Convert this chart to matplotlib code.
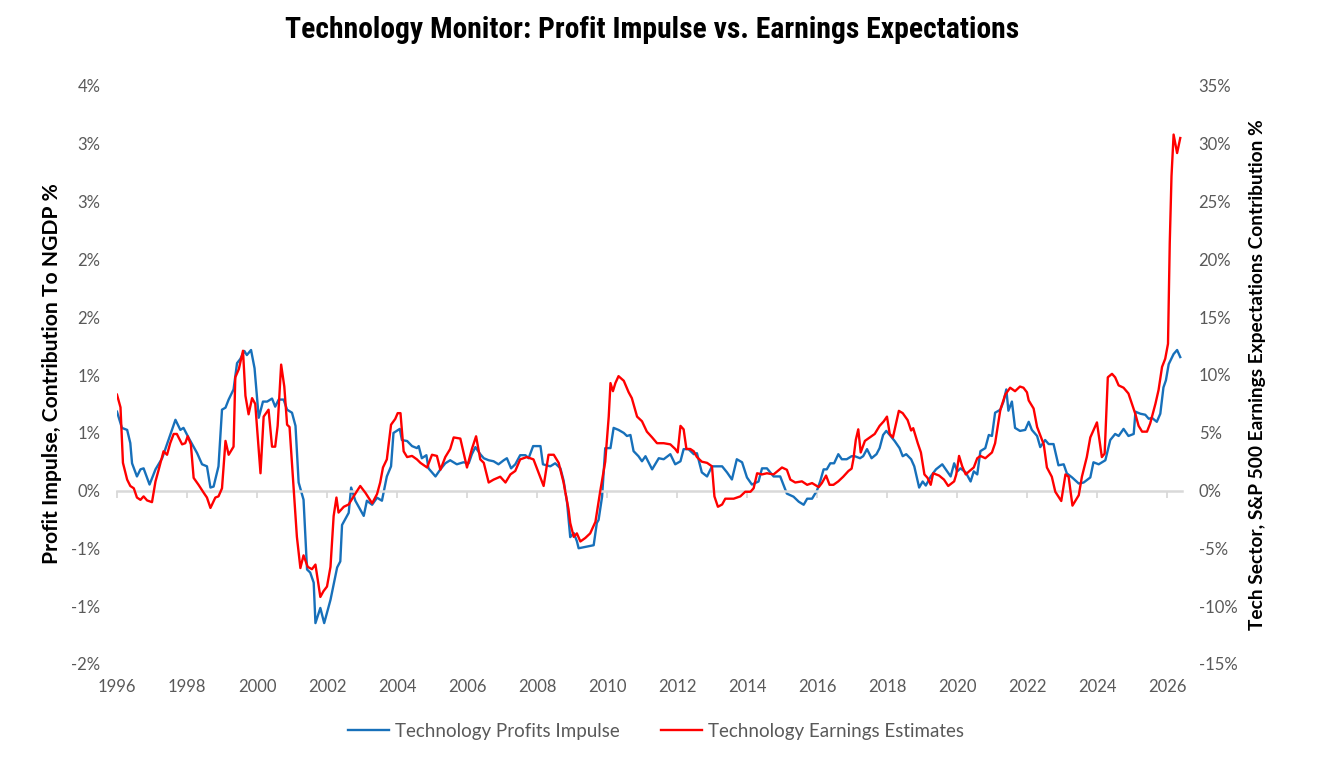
import numpy as np
import matplotlib
matplotlib.use("Agg")
import matplotlib.pyplot as plt
from matplotlib.ticker import FuncFormatter, FixedLocator

# Technology Profits Impulse, contribution to NGDP (%), left axis
blue_years = [1996.0, 1996.14, 1996.29, 1996.38, 1996.43, 1996.57, 1996.67, 1996.76, 1996.93, 1997.1,
              1997.29, 1997.43, 1997.67, 1997.81, 1997.9, 1998.05, 1998.29, 1998.43, 1998.57, 1998.67,
              1998.76, 1998.9, 1999.0, 1999.1, 1999.19, 1999.33, 1999.43, 1999.52, 1999.64, 1999.71,
              1999.83, 1999.93, 2000.05, 2000.17, 2000.29, 2000.43, 2000.52, 2000.62, 2000.76, 2000.86,
              2001.0, 2001.1, 2001.19, 2001.33, 2001.43, 2001.52, 2001.62, 2001.67, 2001.81, 2001.92,
              2002.1, 2002.29, 2002.38, 2002.43, 2002.62, 2002.69, 2002.81, 2003.05, 2003.14, 2003.29,
              2003.43, 2003.57, 2003.71, 2003.83, 2003.9, 2004.08, 2004.14, 2004.29, 2004.43, 2004.57,
              2004.62, 2004.71, 2004.84, 2004.9, 2005.1, 2005.24, 2005.38, 2005.52, 2005.71, 2005.9,
              2006.05, 2006.14, 2006.24, 2006.38, 2006.48, 2006.62, 2006.76, 2006.9, 2007.05, 2007.14,
              2007.26, 2007.38, 2007.52, 2007.67, 2007.76, 2007.89, 2008.1, 2008.17, 2008.38, 2008.52,
              2008.67, 2008.76, 2008.86, 2008.95, 2009.05, 2009.14, 2009.19, 2009.33, 2009.62, 2009.71,
              2009.76, 2009.86, 2009.95, 2010.1, 2010.19, 2010.33, 2010.48, 2010.57, 2010.67, 2010.76,
              2010.9, 2011.0, 2011.1, 2011.29, 2011.48, 2011.62, 2011.81, 2011.95, 2012.1, 2012.19,
              2012.33, 2012.48, 2012.57, 2012.71, 2012.86, 2013.0, 2013.14, 2013.29, 2013.43, 2013.57,
              2013.71, 2013.86, 2014.0, 2014.14, 2014.33, 2014.43, 2014.57, 2014.76, 2014.95, 2015.14,
              2015.33, 2015.48, 2015.62, 2015.72, 2015.86, 2016.0, 2016.09, 2016.19, 2016.28, 2016.38,
              2016.49, 2016.61, 2016.71, 2016.85, 2016.99, 2017.08, 2017.23, 2017.32, 2017.43, 2017.56,
              2017.7, 2017.79, 2017.89, 2017.98, 2018.08, 2018.22, 2018.36, 2018.45, 2018.55, 2018.69,
              2018.78, 2018.92, 2019.02, 2019.11, 2019.25, 2019.4, 2019.58, 2019.68, 2019.82, 2019.92,
              2020.01, 2020.1, 2020.25, 2020.39, 2020.48, 2020.58, 2020.67, 2020.81, 2020.91, 2021.0,
              2021.09, 2021.24, 2021.33, 2021.41, 2021.47, 2021.57, 2021.66, 2021.8, 2021.95, 2022.05,
              2022.14, 2022.29, 2022.38, 2022.52, 2022.62, 2022.76, 2022.9, 2023.05, 2023.14, 2023.29,
              2023.48, 2023.62, 2023.81, 2023.9, 2024.05, 2024.24, 2024.38, 2024.52, 2024.62, 2024.76,
              2024.9, 2025.05, 2025.1, 2025.24, 2025.38, 2025.48, 2025.57, 2025.71, 2025.81, 2025.9,
              2025.97, 2026.05, 2026.19, 2026.29, 2026.38]
blue_vals = [0.78, 0.62, 0.60, 0.47, 0.27, 0.14, 0.21, 0.22, 0.06, 0.21,
             0.32, 0.46, 0.70, 0.60, 0.62, 0.52, 0.37, 0.26, 0.24, 0.03,
             0.04, 0.24, 0.80, 0.82, 0.90, 1.00, 1.26, 1.30, 1.38, 1.34,
             1.39, 1.21, 0.72, 0.88, 0.88, 0.91, 0.83, 0.90, 0.90, 0.80,
             0.77, 0.64, 0.08, -0.09, -0.78, -0.81, -0.91, -1.31, -1.16, -1.31,
             -1.08, -0.76, -0.70, -0.34, -0.22, 0.03, -0.10, -0.25, -0.10, -0.14,
             -0.07, -0.10, 0.14, 0.24, 0.57, 0.61, 0.50, 0.49, 0.44, 0.42,
             0.44, 0.32, 0.35, 0.22, 0.14, 0.21, 0.27, 0.30, 0.26, 0.28,
             0.27, 0.36, 0.43, 0.36, 0.32, 0.30, 0.29, 0.26, 0.30, 0.32,
             0.22, 0.26, 0.35, 0.35, 0.32, 0.44, 0.44, 0.26, 0.24, 0.27,
             0.22, 0.10, -0.12, -0.46, -0.42, -0.50, -0.57, -0.56, -0.54, -0.32,
             -0.29, -0.06, 0.42, 0.42, 0.62, 0.60, 0.57, 0.54, 0.55, 0.39,
             0.34, 0.29, 0.34, 0.21, 0.32, 0.31, 0.36, 0.26, 0.29, 0.41,
             0.41, 0.36, 0.37, 0.18, 0.14, 0.24, 0.24, 0.24, 0.18, 0.11,
             0.31, 0.28, 0.13, 0.06, 0.09, 0.22, 0.22, 0.14, 0.14, -0.03,
             -0.06, -0.11, -0.14, -0.08, -0.08, 0.0, 0.09, 0.21, 0.21, 0.27,
             0.27, 0.36, 0.31, 0.31, 0.34, 0.34, 0.32, 0.34, 0.41, 0.32,
             0.36, 0.42, 0.55, 0.59, 0.55, 0.49, 0.42, 0.34, 0.36, 0.31,
             0.24, 0.03, 0.09, 0.05, 0.14, 0.21, 0.26, 0.21, 0.14, 0.27,
             0.19, 0.22, 0.18, 0.09, 0.19, 0.16, 0.39, 0.42, 0.55, 0.54,
             0.77, 0.80, 0.88, 1.00, 0.79, 0.88, 0.62, 0.59, 0.60, 0.68,
             0.60, 0.54, 0.43, 0.50, 0.46, 0.46, 0.25, 0.26, 0.17, 0.13,
             0.07, 0.08, 0.13, 0.28, 0.26, 0.30, 0.50, 0.56, 0.54, 0.61,
             0.54, 0.56, 0.78, 0.76, 0.75, 0.71, 0.72, 0.68, 0.76, 1.02,
             1.09, 1.25, 1.35, 1.39, 1.32]

# Technology Earnings Estimates, S&P 500 contribution (%), right axis
red_years = [1996.0, 1996.1, 1996.17, 1996.29, 1996.38, 1996.48, 1996.57, 1996.67, 1996.76, 1996.86,
             1997.0, 1997.1, 1997.19, 1997.33, 1997.43, 1997.52, 1997.62, 1997.71, 1997.86, 1997.95,
             1998.02, 1998.11, 1998.19, 1998.33, 1998.48, 1998.57, 1998.67, 1998.81, 1998.9, 1999.0,
             1999.1, 1999.19, 1999.33, 1999.38, 1999.48, 1999.6, 1999.67, 1999.76, 1999.86, 1999.95,
             2000.1, 2000.19, 2000.33, 2000.43, 2000.52, 2000.59, 2000.69, 2000.78, 2000.86, 2000.93,
             2001.05, 2001.14, 2001.24, 2001.33, 2001.45, 2001.57, 2001.67, 2001.81, 2001.9, 2002.0,
             2002.1, 2002.19, 2002.27, 2002.33, 2002.48, 2002.62, 2002.76, 2002.95, 2003.1, 2003.29,
             2003.43, 2003.52, 2003.6, 2003.71, 2003.83, 2003.95, 2004.02, 2004.1, 2004.19, 2004.29,
             2004.43, 2004.57, 2004.67, 2004.86, 2005.0, 2005.14, 2005.24, 2005.38, 2005.52, 2005.62,
             2005.81, 2006.0, 2006.14, 2006.26, 2006.38, 2006.48, 2006.62, 2006.76, 2006.95, 2007.1,
             2007.24, 2007.38, 2007.52, 2007.71, 2007.9, 2008.05, 2008.19, 2008.33, 2008.48, 2008.62,
             2008.76, 2008.9, 2008.95, 2009.05, 2009.14, 2009.24, 2009.38, 2009.52, 2009.67, 2009.81,
             2009.95, 2010.05, 2010.1, 2010.17, 2010.24, 2010.33, 2010.48, 2010.62, 2010.71, 2010.86,
             2011.0, 2011.14, 2011.29, 2011.43, 2011.62, 2011.81, 2011.95, 2012.02, 2012.1, 2012.19,
             2012.27, 2012.38, 2012.48, 2012.57, 2012.71, 2012.86, 2013.0, 2013.07, 2013.17, 2013.29,
             2013.38, 2013.62, 2013.81, 2013.95, 2014.1, 2014.19, 2014.29, 2014.43, 2014.57, 2014.76,
             2015.0, 2015.14, 2015.24, 2015.38, 2015.57, 2015.72, 2015.86, 2016.05, 2016.14, 2016.26,
             2016.36, 2016.47, 2016.61, 2016.75, 2016.9, 2016.99, 2017.04, 2017.11, 2017.18, 2017.25,
             2017.37, 2017.51, 2017.65, 2017.79, 2017.91, 2018.0, 2018.08, 2018.17, 2018.34, 2018.45,
             2018.59, 2018.69, 2018.75, 2018.88, 2018.97, 2019.07, 2019.16, 2019.25, 2019.32, 2019.49,
             2019.63, 2019.75, 2019.92, 2019.98, 2020.06, 2020.15, 2020.25, 2020.36, 2020.48, 2020.58,
             2020.67, 2020.81, 2021.0, 2021.09, 2021.24, 2021.38, 2021.52, 2021.66, 2021.8, 2021.9,
             2022.0, 2022.05, 2022.19, 2022.29, 2022.38, 2022.48, 2022.57, 2022.71, 2022.81, 2022.98,
             2023.1, 2023.19, 2023.3, 2023.48, 2023.57, 2023.71, 2023.81, 2024.0, 2024.14, 2024.22,
             2024.31, 2024.43, 2024.52, 2024.62, 2024.76, 2024.9, 2025.0, 2025.1, 2025.19, 2025.29,
             2025.43, 2025.52, 2025.67, 2025.76, 2025.86, 2025.95, 2026.03, 2026.08, 2026.13, 2026.19,
             2026.29, 2026.38]
red_vals = [8.3, 7.2, 2.4, 0.95, 0.4, 0.2, -0.6, -0.8, -0.5, -0.85,
            -1.0, 0.8, 1.8, 3.4, 3.1, 4.1, 4.9, 4.9, 4.0, 4.1,
            4.7, 4.0, 1.1, 0.5, -0.2, -0.6, -1.5, -0.6, -0.5, 0.2,
            4.3, 3.1, 3.8, 9.8, 10.5, 12.1, 8.2, 6.6, 8.0, 7.5,
            1.5, 6.4, 7.0, 3.8, 3.8, 5.6, 10.9, 9.0, 5.7, 5.5,
            0.1, -4.0, -6.7, -5.6, -6.6, -6.8, -6.4, -9.2, -8.7, -8.3,
            -6.6, -2.2, -0.6, -1.9, -1.4, -1.2, -0.5, 0.4, -0.2, -1.1,
            -0.3, 0.7, 2.0, 2.7, 5.7, 6.2, 6.7, 6.7, 3.4, 2.9,
            3.0, 2.7, 2.4, 2.0, 3.1, 3.0, 1.8, 2.9, 3.6, 4.6,
            4.5, 2.0, 3.6, 4.7, 2.7, 2.4, 0.7, 0.95, 1.2, 0.7,
            1.4, 1.7, 2.7, 2.9, 2.7, 1.5, 0.4, 3.1, 3.1, 2.4,
            0.7, -1.6, -2.8, -4.0, -3.7, -4.4, -4.1, -3.7, -2.7, 0.0,
            2.5, 6.4, 9.3, 8.6, 9.3, 9.9, 9.5, 8.5, 8.0, 6.4,
            6.0, 5.1, 4.6, 4.1, 4.1, 4.0, 3.6, 3.3, 5.6, 5.3,
            3.6, 3.6, 3.4, 2.9, 2.5, 2.4, 2.1, -0.5, -1.4, -1.2,
            -0.7, -0.7, -0.5, -0.1, -0.1, 0.2, 1.5, 1.4, 1.5, 1.4,
            2.0, 1.8, 0.95, 0.7, 0.8, 0.5, 0.65, 0.3, 0.65, 1.3,
            0.5, 0.5, 0.8, 1.2, 1.7, 1.9, 2.7, 4.4, 5.3, 3.3,
            4.3, 4.6, 4.9, 5.6, 6.0, 6.4, 4.9, 4.6, 6.9, 6.7,
            6.1, 5.2, 5.4, 4.1, 3.3, 1.4, 1.1, 0.5, 1.5, 1.3,
            0.95, 0.4, 0.8, 1.4, 3.0, 2.1, 1.4, 1.7, 2.0, 2.8,
            3.0, 2.8, 3.3, 4.1, 7.0, 8.3, 8.9, 8.6, 9.0, 8.9,
            8.5, 7.8, 7.1, 5.5, 4.8, 4.0, 2.0, 1.2, -0.1, -0.9,
            1.4, 1.2, -1.3, -0.4, 1.2, 2.9, 4.6, 5.9, 2.9, 3.2,
            9.8, 10.1, 9.8, 9.1, 8.9, 8.4, 7.5, 6.6, 5.6, 5.1,
            5.1, 5.8, 7.5, 8.7, 10.7, 11.4, 12.7, 21.4, 27.2, 30.8,
            29.2, 30.5]

year_ticks = list(range(1996, 2027, 2))
left_ticks = [4 - k * 4 / 7 for k in range(11)]
right_ticks = list(range(-15, 40, 5))

font = ['Lato', 'DejaVu Sans']
plt.rcParams['font.family'] = font
grey = '#595959'
blue = '#1770BA'
red = '#FF0000'


def pct(v, pos=None):
    s = f"{v:.0f}"
    if s == "-0":
        s = "0"
    return s + "%"


fig = plt.figure(figsize=(13.17, 7.69), dpi=100)
ax1 = fig.add_axes([117 / 1317, 105 / 769, 1065 / 1317, 578 / 769])
ax2 = ax1.twinx()

ax1.plot(blue_years, blue_vals, color=blue, lw=1.7, label='Technology Profits Impulse')
ax2.plot(red_years, red_vals, color=red, lw=1.7, label='Technology Earnings Estimates')

ax1.set_xlim(1996.0, 2026.43)
ax1.set_ylim(-12 / 7, 4)
ax2.set_ylim(-15, 35)

ax1.yaxis.set_major_locator(FixedLocator(left_ticks))
ax1.yaxis.set_major_formatter(FuncFormatter(pct))
ax2.yaxis.set_major_locator(FixedLocator(right_ticks))
ax2.yaxis.set_major_formatter(FuncFormatter(pct))

for ax in (ax1, ax2):
    for s in ax.spines.values():
        s.set_visible(False)
    ax.tick_params(axis='y', length=0, pad=12, labelsize=12, labelcolor=grey)

# zero line with tick marks, labels kept at the bottom
ax1.spines['bottom'].set_visible(True)
ax1.spines['bottom'].set_position(('data', 0))
ax1.spines['bottom'].set_color('#D9D9D9')
ax1.spines['bottom'].set_linewidth(1.8)
ax1.set_xticks(year_ticks)
ax1.tick_params(axis='x', length=5, width=1.3, color='#D9D9D9', labelbottom=False)

secx = ax1.secondary_xaxis(0.0)
secx.set_xticks(year_ticks)
secx.set_xticklabels([str(y) for y in year_ticks])
secx.tick_params(axis='x', length=0, pad=11, labelsize=12, labelcolor=grey)
for s in secx.spines.values():
    s.set_visible(False)

fig.text(52 / 1317, 1 - 374 / 769, 'Profit Impulse, Contribution To NGDP %', rotation=90,
         ha='center', va='center', fontsize=15.2, fontweight='bold', color='black')
fig.text(1257 / 1317, 1 - 375 / 769, 'Tech Sector, S&P 500 Earnings Expectations Contribution %',
         rotation=90, ha='center', va='center', fontsize=13.8, fontweight='bold', color='black')

title_fonts = ['Liberation Sans Narrow', 'Roboto Condensed', 'Open Sans Condensed',
               'Noto Sans Condensed', 'DejaVu Sans Condensed', 'Roboto']
fig.text(652 / 1317, 1 - 30 / 769, 'Technology Monitor: Profit Impulse vs. Earnings Expectations',
         ha='center', va='center', fontsize=21.3, fontweight='bold', fontstretch='condensed',
         family=title_fonts, color='black')

h1, l1 = ax1.get_legend_handles_labels()
h2, l2 = ax2.get_legend_handles_labels()
fig.legend(h1 + h2, l1 + l2, loc='center', bbox_to_anchor=(656 / 1317, 1 - 731 / 769), ncol=2,
           frameon=False, fontsize=13.5, labelcolor=grey, handlelength=2.2, handletextpad=0.3,
           columnspacing=2.2)

fig.savefig('out.png', dpi=100)
